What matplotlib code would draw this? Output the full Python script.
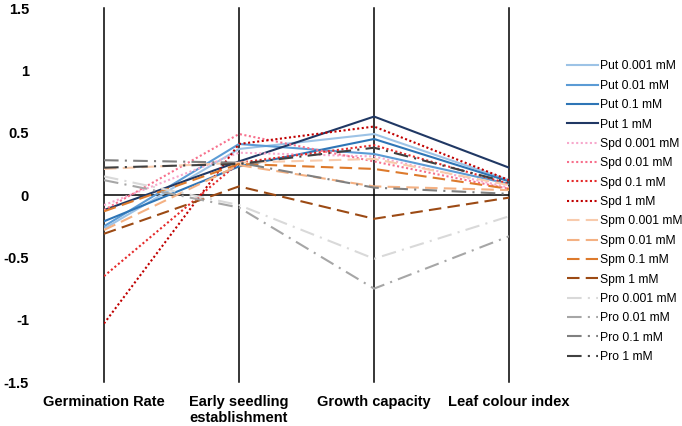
import numpy as np
import matplotlib
matplotlib.use('Agg')
import matplotlib.pyplot as plt

plt.rcParams['font.family'] = ['Liberation Sans', 'DejaVu Sans']

# --- data ---
categories = ['Germination Rate', 'Early seedling\nestablishment', 'Growth capacity', 'Leaf colour index']

put_labels = ['Put 0.001 mM', 'Put 0.01 mM', 'Put 0.1 mM', 'Put 1 mM']
put_values = [
    [-0.27, 0.37, 0.49, 0.12],
    [-0.25, 0.41, 0.33, 0.09],
    [-0.21, 0.23, 0.45, 0.11],
    [-0.12, 0.27, 0.63, 0.22],
]

spd_labels = ['Spd 0.001 mM', 'Spd 0.01 mM', 'Spd 0.1 mM', 'Spd 1 mM']
spd_values = [
    [-0.08, 0.34, 0.31, 0.06],
    [-0.12, 0.49, 0.27, 0.05],
    [-0.65, 0.26, 0.40, 0.09],
    [-1.03, 0.41, 0.55, 0.12],
]

spm_labels = ['Spm 0.001 mM', 'Spm 0.01 mM', 'Spm 0.1 mM', 'Spm 1 mM']
spm_values = [
    [0.21, 0.26, 0.29, 0.08],
    [-0.28, 0.24, 0.07, 0.04],
    [-0.13, 0.25, 0.21, 0.05],
    [-0.31, 0.07, -0.19, -0.02],
]

pro_labels = ['Pro 0.001 mM', 'Pro 0.01 mM', 'Pro 0.1 mM', 'Pro 1 mM']
pro_values = [
    [0.15, -0.08, -0.51, -0.17],
    [0.12, -0.10, -0.75, -0.33],
    [0.28, 0.26, 0.06, 0.01],
    [0.22, 0.25, 0.38, 0.10],
]

y_ticks = [-1.5, -1, -0.5, 0, 0.5, 1, 1.5]
y_tick_labels = ['-1.5', '-1', '-0.5', '0', '0.5', '1', '1.5']

# --- styles ---
put_colors = ['#9dc3e6', '#5b9bd5', '#2e75b6', '#203864']
spd_colors = ['#f7a8cc', '#f7708c', '#e52a2a', '#c00000']
spm_colors = ['#f8cbad', '#f4b183', '#dd7a2c', '#9c4a14']
pro_colors = ['#d9d9d9', '#a6a6a6', '#808080', '#404040']

groups = [
    (put_labels, put_values, put_colors, '-'),
    (spd_labels, spd_values, spd_colors, (0, (1, 1.2))),
    (spm_labels, spm_values, spm_colors, (0, (6, 3))),
    (pro_labels, pro_values, pro_colors, (0, (7, 3, 1, 3))),
]

fig = plt.figure(figsize=(6.82, 4.26), dpi=100)
ax = fig.add_axes([0.1525, 0.103, 0.594, 0.878])

x = np.arange(len(categories))

for labels, values, colors, ls in groups:
    for lab, vals, col in zip(labels, values, colors):
        ax.plot(x, vals, color=col, linestyle=ls, linewidth=1.5, label=lab)

# category lines and zero axis
for xi in x:
    ax.axvline(xi, color='black', linewidth=1.1, zorder=0, clip_on=False)
ax.axhline(0, color='black', linewidth=1.1, zorder=0)

ax.set_xlim(0, len(categories) - 1)
ax.set_ylim(-1.5, 1.5)
ax.set_xticks(x)
ax.set_xticklabels(categories, fontsize=10.5, fontweight='bold', linespacing=1.25)
ax.set_yticks(y_ticks)
ax.set_yticklabels(y_tick_labels, fontsize=10.5, fontweight='bold')
ax.tick_params(axis='y', length=0, pad=54)
ax.tick_params(axis='x', length=0, pad=9)
for sp in ax.spines.values():
    sp.set_visible(False)

fig.legend(loc='upper left', bbox_to_anchor=(0.832, 0.858), frameon=False,
           fontsize=8.7, handlelength=2.5, handletextpad=0.2, labelspacing=0.61,
           borderpad=0, borderaxespad=0)

fig.savefig('out.png', dpi=100)
